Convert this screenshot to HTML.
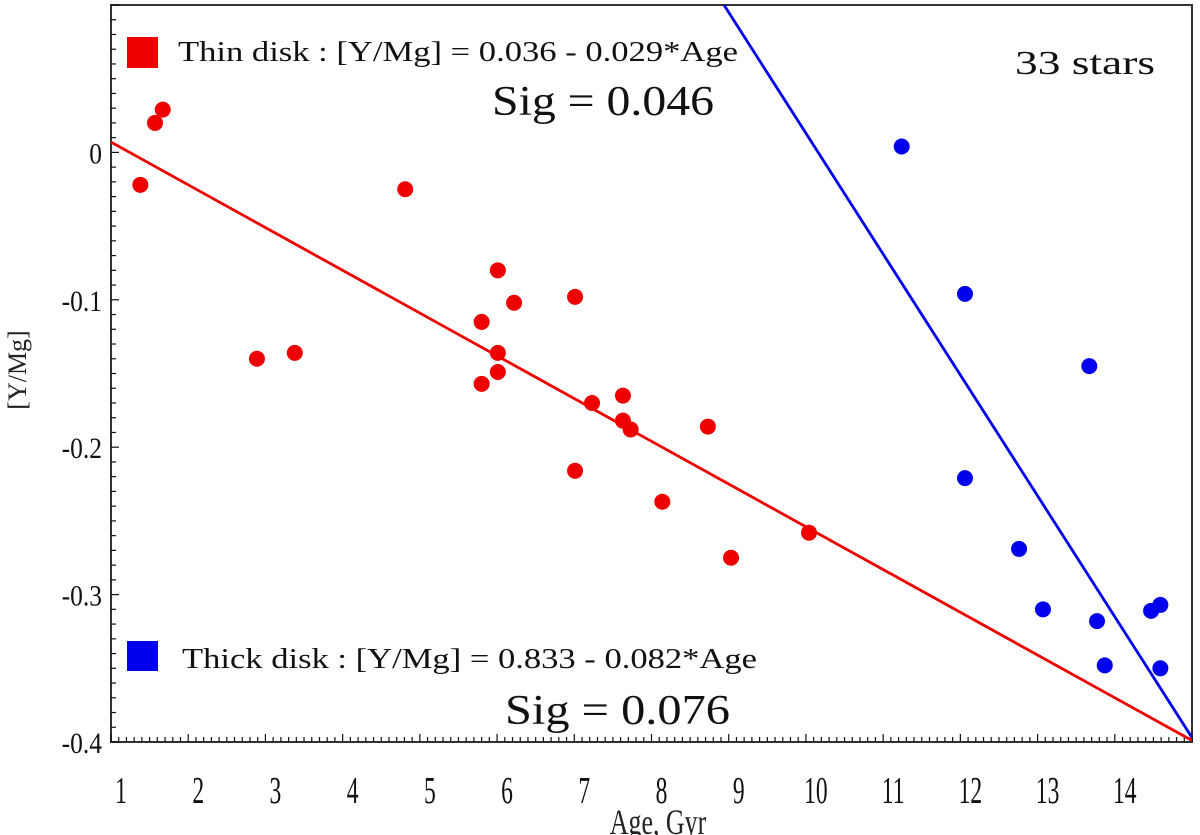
<!DOCTYPE html>
<html><head><meta charset="utf-8"><style>
html,body{margin:0;padding:0;background:#fff;}
svg{display:block;font-family:"Liberation Serif",serif;}
</style></head><body>
<svg id="c" width="1200" height="835" viewBox="0 0 1200 835" xmlns="http://www.w3.org/2000/svg"></svg>
<script>
const thinAge=[1.38,1.57,1.67,2.89,3.38,4.81,5.80,5.80,6.01,6.01,6.01,6.22,7.01,7.01,7.23,7.63,7.63,7.73,8.14,8.73,9.03,10.04];
const thinY=[-0.022,0.020,0.029,-0.140,-0.136,-0.025,-0.115,-0.157,-0.080,-0.136,-0.149,-0.102,-0.098,-0.216,-0.170,-0.165,-0.182,-0.188,-0.237,-0.186,-0.275,-0.258];
const thickAge=[11.24,12.06,12.06,12.76,13.07,13.67,13.77,13.87,14.47,14.59,14.59];
const thickY=[0.004,-0.096,-0.221,-0.269,-0.310,-0.145,-0.318,-0.348,-0.311,-0.307,-0.350];
const thinFit=[0.036,-0.029];
const thickFit=[0.833,-0.082];
const xTicks=[1,2,3,4,5,6,7,8,9,10,11,12,13,14];
const yTicks=[0,-0.1,-0.2,-0.3,-0.4];
const yTickLabels=["0","-0.1","-0.2","-0.3","-0.4"];

const L=111,R=1192,T=5,B=742,X0=1,X1=15,Y0=-0.4,Y1=0.1;
const sx=a=>L+(a-X0)/(X1-X0)*(R-L);
const sy=v=>B-(v-Y0)/(Y1-Y0)*(B-T);
const svg=document.getElementById('c');
const NS='http://www.w3.org/2000/svg';
function mk(tag,attrs,parent){const e=document.createElementNS(NS,tag);for(const k in attrs)e.setAttribute(k,attrs[k]);(parent||svg).appendChild(e);return e;}

const frame=mk('rect',{x:L,y:T,width:R-L,height:B-T,fill:'none',stroke:'#333','stroke-width':2});



const tg=mk('g',{stroke:'#111','stroke-width':1.2});


for(let i=0;i<=(X1-X0)*10;i++){const a=X0+i/10;const x=sx(a);const major=i%10===0;mk('line',{x1:x,x2:x,y1:B,y2:B-(major?8:5)},tg);}
for(let i=0;i<=50;i++){const v=Y0+i/100;const y=sy(v);const major=i%10===0;mk('line',{x1:L,x2:L+(major?8:5),y1:y,y2:y},tg);}

xTicks.forEach(a=>{const cx=sx(a)+10;const t=mk('text',{x:cx,y:803,'font-size':38,'text-anchor':'middle',fill:'#111',transform:`translate(${cx},0) scale(0.62,1) translate(${-cx},0)`});t.textContent=a;

});
yTicks.forEach((v,i)=>{const t=mk('text',{x:102,y:sy(v)+11,'font-size':30,'text-anchor':'end',fill:'#111',transform:`translate(102,0) scale(0.85,1) translate(-102,0)`});t.textContent=yTickLabels[i];

});

const xt=mk('text',{x:658,y:834,'font-size':36,'text-anchor':'middle',fill:'#222',transform:'translate(658,0) scale(0.72,1) translate(-658,0)'});xt.textContent='Age, Gyr';


const yt=mk('text',{x:0,y:0,'font-size':26,'text-anchor':'middle',fill:'#222',transform:'translate(26,370) rotate(-90)'});yt.textContent='[Y/Mg]';



mk('clipPath',{id:'cp'}).appendChild((()=>{const r=document.createElementNS(NS,'rect');r.setAttribute('x',L);r.setAttribute('y',T);r.setAttribute('width',R-L);r.setAttribute('height',B-T);return r;})());
function fit(c,col,name){const l=mk('line',{x1:sx(X0),y1:sy(c[0]+c[1]*X0),x2:sx(X1),y2:sy(c[0]+c[1]*X1),stroke:col,'stroke-width':2.8,'clip-path':'url(#cp)'});

}
fit(thinFit,'#e00','thin-disk-fit-line');
fit(thickFit,'#0000ee','thick-disk-fit-line');

thinAge.forEach((a,i)=>{const c=mk('circle',{cx:sx(a),cy:sy(thinY[i]),r:8,fill:'#e00'});

});
thickAge.forEach((a,i)=>{const c=mk('circle',{cx:sx(a),cy:sy(thickY[i]),r:8,fill:'#0000ee'});

});

function txt(x,y,s,str,w,name){const t=mk('text',{x:x,y:y,'font-size':s,fill:'#111',textLength:w,lengthAdjust:'spacingAndGlyphs'});t.textContent=str;

return t;}
const s1=mk('rect',{x:127,y:37,width:31,height:31,fill:'#e00'});


txt(178,61,29,'Thin disk : [Y/Mg] = 0.036 - 0.029*Age',560,'thin-disk-legend-label');
txt(492,115,42,'Sig = 0.046',222,'thin-disk-sigma');
txt(1015,74,34,'33 stars',140,'star-count');
const s2=mk('rect',{x:127,y:641,width:31,height:30,fill:'#0000ee'});


txt(182,668,29,'Thick disk : [Y/Mg] = 0.833 - 0.082*Age',575,'thick-disk-legend-label');
txt(505,724,42,'Sig = 0.076',225,'thick-disk-sigma');
</script>
</body></html>
